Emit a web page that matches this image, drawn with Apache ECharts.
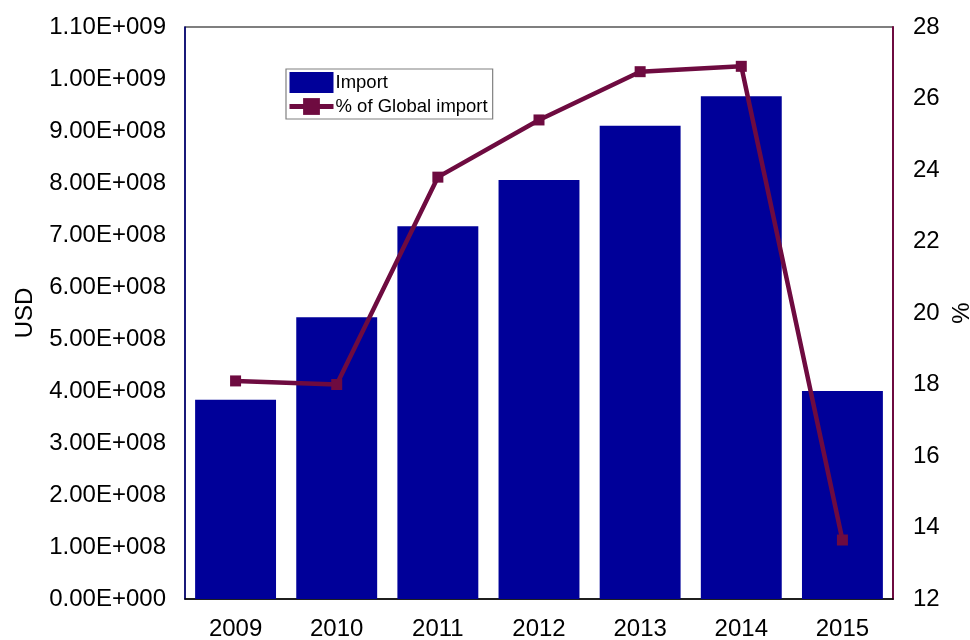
<!DOCTYPE html>
<html>
<head>
<meta charset="utf-8">
<style>
  html, body { margin: 0; padding: 0; background: #fff; }
  #chart { width: 970px; height: 640px; }
</style>
<script src="https://cdn.jsdelivr.net/npm/echarts@6/dist/echarts.min.js"></script>
</head>
<body>
<div id="chart"></div>
<script>
// Yearly import value (USD) and share of global import (%)
const years = ['2009', '2010', '2011', '2012', '2013', '2014', '2015'];
const importUsd = [3.83e8, 5.42e8, 7.17e8, 8.06e8, 9.10e8, 9.67e8, 4.00e8];
const globalShare = [18.1, 18.0, 23.8, 25.4, 26.75, 26.9, 13.65];

const FONT = '"Liberation Sans", Arial, sans-serif';
const BAR_COLOR = '#000099';
const LINE_COLOR = '#6E0B40';

function sci(v) {
  if (v === 0) return '0.00E+000';
  const e = Math.floor(Math.log10(v) + 1e-9);
  const m = v / Math.pow(10, e);
  return m.toFixed(2) + 'E+' + String(e).padStart(3, '0');
}

const chart = echarts.init(document.getElementById('chart'), null, { renderer: 'canvas' });
chart.setOption({
  animation: false,
  textStyle: { fontFamily: FONT },
  grid: {
    left: 185, right: 77, top: 27, bottom: 41,
    outerBoundsMode: 'none',
    containLabel: false,
    show: true, borderColor: '#000', borderWidth: 1.2, backgroundColor: 'transparent'
  },
  legend: {
    orient: 'vertical',
    left: 286, top: 69,
    padding: [3, 5, 3, 1],
    itemGap: 4,
    itemWidth: 44, itemHeight: 21,
    borderColor: '#808080', borderWidth: 1.2,
    textStyle: { fontFamily: FONT, fontSize: 18.5, color: '#000', padding: [0, 0, 0, -3] },
    data: [
      { name: 'Import', icon: 'rect' },
      { name: '% of Global import', lineStyle: { width: 5 } }
    ]
  },
  xAxis: {
    type: 'category',
    data: years,
    axisLine: { lineStyle: { color: '#000', width: 1.5 } },
    axisTick: { show: false },
    axisLabel: { fontSize: 24, color: '#000', fontFamily: FONT, margin: 18 }
  },
  yAxis: [
    {
      type: 'value', min: 0, max: 1.1e9, interval: 1e8,
      name: 'USD', nameLocation: 'middle', nameGap: 148, nameRotate: 90,
      nameTextStyle: { fontSize: 24, color: '#000', fontFamily: FONT },
      axisLine: { show: true, lineStyle: { color: '#000080', width: 1.5 } },
      axisTick: { show: false },
      splitLine: { show: false },
      axisLabel: { fontSize: 24, color: '#000', fontFamily: FONT, margin: 19, formatter: sci }
    },
    {
      type: 'value', min: 12, max: 28, interval: 2, position: 'right',
      name: '%', nameLocation: 'middle', nameGap: 56, nameRotate: 90,
      nameTextStyle: { fontSize: 24, color: '#000', fontFamily: FONT },
      axisLine: { show: true, lineStyle: { color: LINE_COLOR, width: 2 } },
      axisTick: { show: false },
      splitLine: { show: false },
      axisLabel: { fontSize: 24, color: '#000', fontFamily: FONT, margin: 20 }
    }
  ],
  series: [
    {
      name: 'Import', type: 'bar', yAxisIndex: 0,
      data: importUsd,
      barCategoryGap: '20%',
      itemStyle: { color: BAR_COLOR }
    },
    {
      name: '% of Global import', type: 'line', yAxisIndex: 1,
      data: globalShare,
      symbol: 'rect', symbolSize: 11,
      lineStyle: { color: LINE_COLOR, width: 4.5 },
      itemStyle: { color: LINE_COLOR }
    }
  ]
});
</script>
</body>
</html>
